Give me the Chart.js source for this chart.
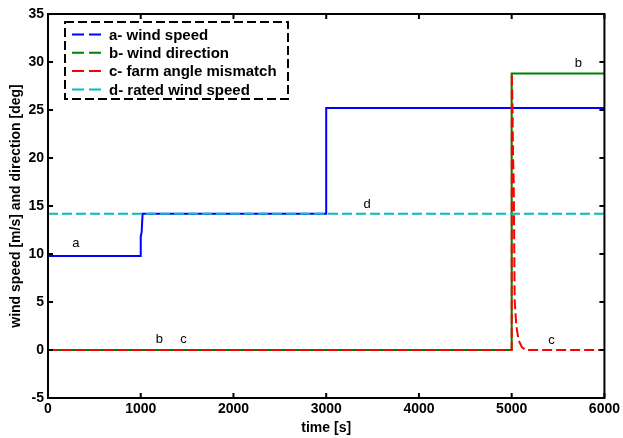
<!DOCTYPE html>
<html>
<head>
<meta charset="utf-8">
<script src="https://cdn.jsdelivr.net/npm/chart.js@4"></script>
<style>
  html, body { margin: 0; padding: 0; background: #fff; }
  #wrap { width: 623px; height: 438px; }
</style>
</head>
<body>
<div id="wrap"><canvas id="windChart" width="623" height="438"></canvas></div>
<script>
// series
const seriesNames = ["a- wind speed", "b- wind direction", "c- farm angle mismatch", "d- rated wind speed"];

const speedTime  = [0, 1000, 1000, 1010, 1020, 3000, 3000, 6000];
const speedValue = [9.8, 9.8, 11.8, 12.3, 14.2, 14.2, 25.2, 25.2];

const directionTime  = [0, 5000, 5000, 6000];
const directionValue = [0, 0, 28.8, 28.8];

const mismatchTime  = [0, 5000, 5001, 5008, 5015, 5022, 5032, 5050, 5075, 5110, 5150, 6000];
const mismatchValue = [0, 0, 28.8, 26, 20, 17.4, 5.2, 2.5, 1, 0.3, 0, 0];

const ratedTime  = [0, 6000];
const ratedValue = [14.2, 14.2];

const xTicks = [0, 1000, 2000, 3000, 4000, 5000, 6000];
const yTicks = [-5, 0, 5, 10, 15, 20, 25, 30, 35];

// letters placed beside the curves (data coordinates)
const curveLetters = ["a", "b", "c", "b", "c", "d"];
const letterTime   = [300, 1200, 1460, 5720, 5430, 3440];
const letterValue  = [11.1, 1.1, 1.1, 29.9, 1.0, 15.2];

function pts(xs, ys) {
    return xs.map(function(x, i) { return {x: x, y: ys[i]}; });
}

const colours = ["#0000ff", "#008000", "#ff0000", "#00bfbf"];
const fontFamily = "Arial, 'Liberation Sans', sans-serif";
const boldFont = {family: fontFamily, size: 14, weight: "bold"};

// frame, inward ticks, letters and the dashed legend box
const extras = {
    id: "extras",
    afterDatasetsDraw(chart) {
        const ctx = chart.ctx;
        const a = chart.chartArea;
        const xs = chart.scales.x, ys = chart.scales.y;
        ctx.save();

        // curve letters
        ctx.fillStyle = "#000";
        ctx.font = "13px " + fontFamily;
        ctx.textAlign = "center";
        ctx.textBaseline = "middle";
        curveLetters.forEach(function(t, i) {
            ctx.fillText(t, xs.getPixelForValue(letterTime[i]), ys.getPixelForValue(letterValue[i]));
        });

        // inward ticks on all four sides
        ctx.strokeStyle = "#000";
        ctx.lineWidth = 2;
        ctx.beginPath();
        xTicks.forEach(function(v) {
            const px = xs.getPixelForValue(v);
            ctx.moveTo(px, a.bottom); ctx.lineTo(px, a.bottom - 5);
            ctx.moveTo(px, a.top); ctx.lineTo(px, a.top + 5);
        });
        yTicks.forEach(function(v) {
            const py = ys.getPixelForValue(v);
            ctx.moveTo(a.left, py); ctx.lineTo(a.left + 5, py);
            ctx.moveTo(a.right, py); ctx.lineTo(a.right - 5, py);
        });
        ctx.stroke();

        // frame
        ctx.strokeRect(a.left, a.top, a.right - a.left, a.bottom - a.top);

        // legend
        const bx = a.left + 17, by = a.top + 8, bw = 223, bh = 77;
        ctx.fillStyle = "#fff";
        ctx.fillRect(bx, by, bw, bh);
        ctx.setLineDash([9, 4]);
        ctx.strokeRect(bx, by, bw, bh);
        ctx.font = "bold 15px " + fontFamily;
        ctx.textAlign = "left";
        seriesNames.forEach(function(name, i) {
            const ly = by + 12.5 + i * 18.3;
            ctx.strokeStyle = colours[i];
            ctx.lineWidth = 2;
            ctx.setLineDash([12, 5]);
            ctx.beginPath();
            ctx.moveTo(bx + 7, ly); ctx.lineTo(bx + 37, ly);
            ctx.stroke();
            ctx.fillStyle = "#000";
            ctx.fillText(name, bx + 44, ly + 1);
        });
        ctx.restore();
    }
};

new Chart(document.getElementById("windChart"), {
    type: "line",
    data: {
        datasets: [
            {label: seriesNames[0], data: pts(speedTime, speedValue), borderColor: colours[0], borderWidth: 2, order: 3},
            {label: seriesNames[1], data: pts(directionTime, directionValue), borderColor: colours[1], borderWidth: 2, order: 2},
            {label: seriesNames[2], data: pts(mismatchTime, mismatchValue), borderColor: colours[2], borderWidth: 2, borderDash: [10, 4], order: 1},
            {label: seriesNames[3], data: pts(ratedTime, ratedValue), borderColor: colours[3], borderWidth: 2, borderDash: [10, 4], order: 0}
        ]
    },
    options: {
        responsive: false,
        animation: false,
        layout: {padding: {top: 14, right: 16, left: 0, bottom: 0}},
        elements: {point: {radius: 0}, line: {tension: 0}},
        plugins: {legend: {display: false}, tooltip: {enabled: false}},
        scales: {
            x: {
                type: "linear", min: 0, max: 6000,
                afterBuildTicks: function(s) { s.ticks = xTicks.map(function(v) { return {value: v}; }); },
                afterFit: function(s) { s.height = 40; },
                grid: {display: false, drawTicks: false},
                border: {display: false},
                ticks: {color: "#000", font: boldFont, padding: 3, maxRotation: 0,
                        callback: function(v) { return String(v); }},
                title: {display: true, text: "time [s]", color: "#000", font: boldFont, padding: {top: 0, bottom: 1}}
            },
            y: {
                type: "linear", min: -5, max: 35,
                afterBuildTicks: function(s) { s.ticks = yTicks.map(function(v) { return {value: v}; }); },
                afterFit: function(s) { s.width = 48; },
                grid: {display: false, drawTicks: false},
                border: {display: false},
                ticks: {color: "#000", font: boldFont, padding: 4},
                title: {display: true, text: "wind speed [m/s] and direction [deg]", color: "#000",
                        font: boldFont, padding: {top: 8, bottom: 0}}
            }
        }
    },
    plugins: [extras]
});
</script>
</body>
</html>
